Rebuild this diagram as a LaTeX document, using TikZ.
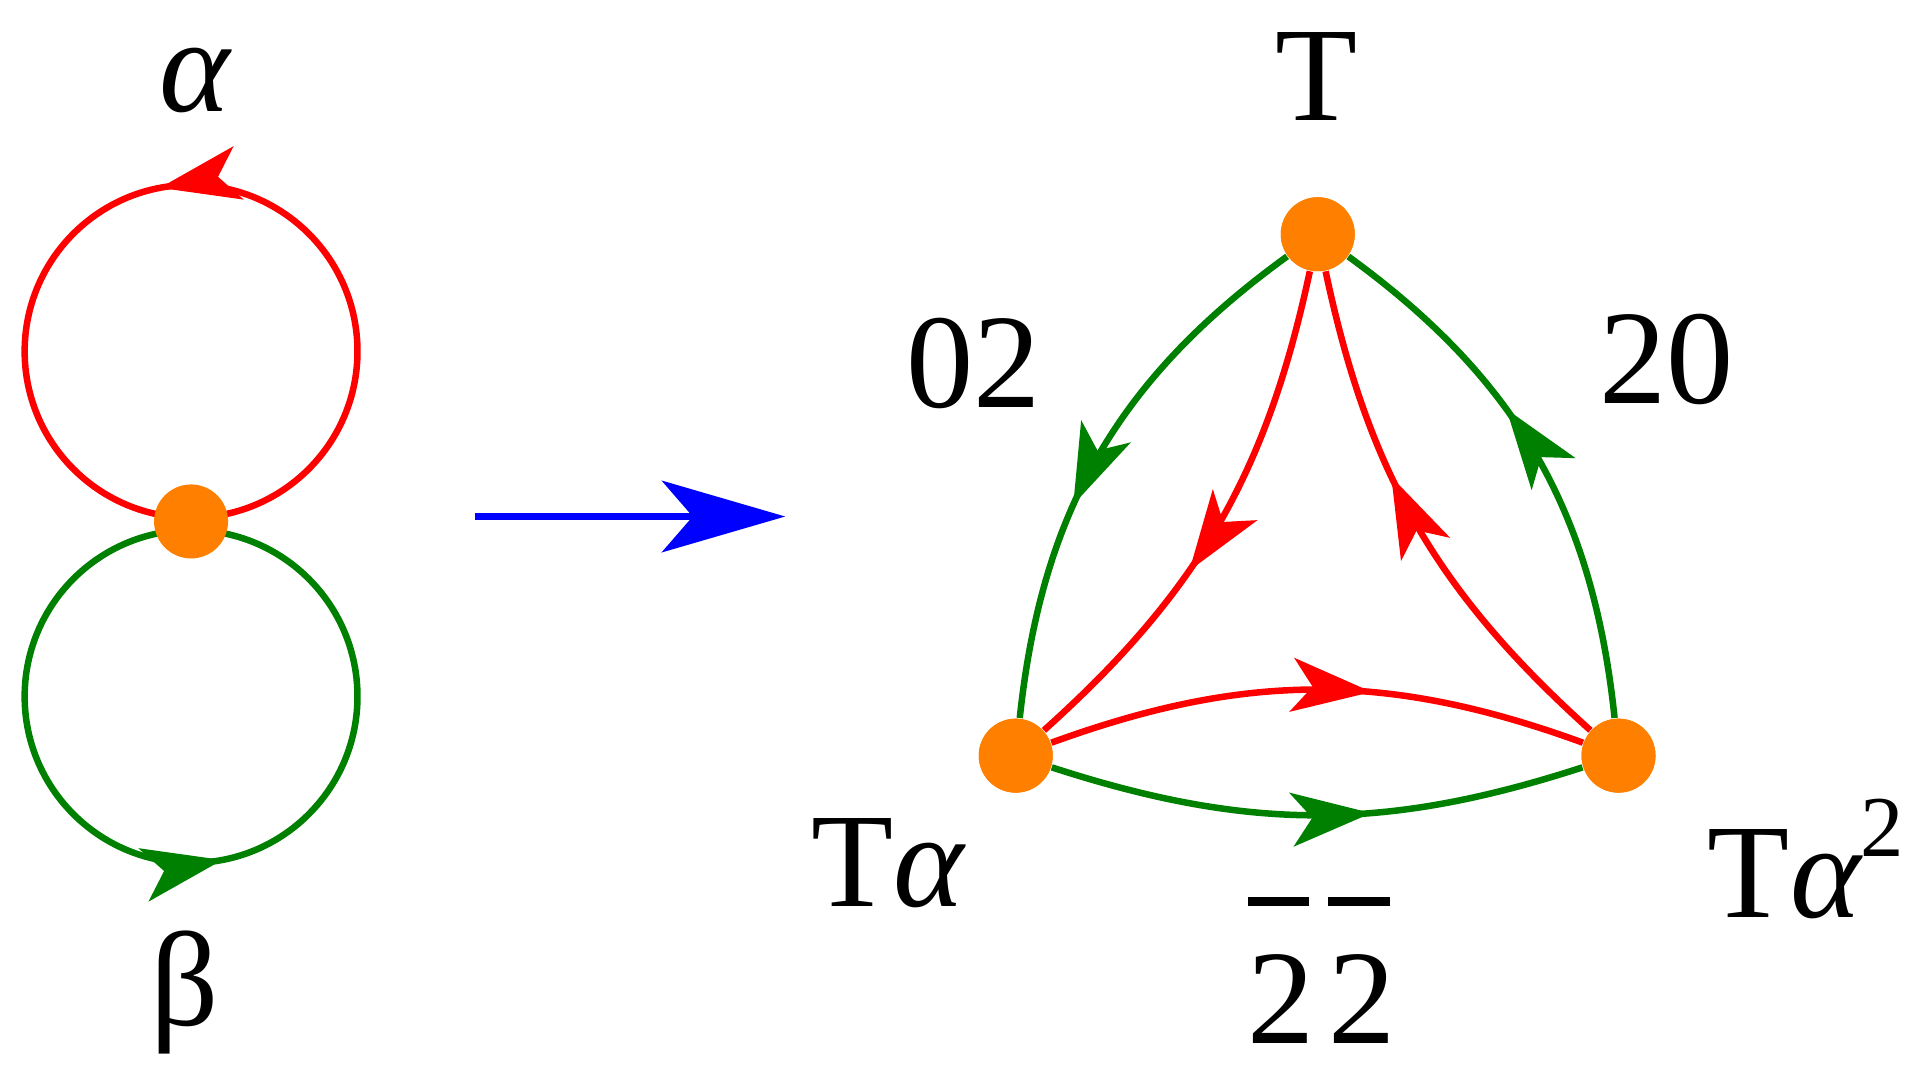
\documentclass[tikz,border=0pt]{standalone}
\usepackage{fontspec}
\setmainfont{Liberation Serif}
\newfontfamily\tmf{Liberation Serif}
\usetikzlibrary{arrows.meta,decorations.markings}
\definecolor{dgreen}{RGB}{0,128,0}
\definecolor{orng}{RGB}{255,128,0}
\tikzset{
 vtx/.style={circle,fill=orng,minimum size=0.6cm,inner sep=0pt},
 ln/.style={line width=1.5pt},
 midarr/.style={postaction={decorate},decoration={markings,mark=at position #1 with {\arrow[line width=0.5pt]{Stealth[length=0.65cm,width=0.44cm,inset=0.17cm]}}}},
 lab/.style={font=\tmf\fontsize{31}{34}\selectfont,inner sep=0pt}
}
\begin{document}
\begin{tikzpicture}[x=0.01cm,y=-0.01cm]
\useasboundingbox (0,0) rectangle (1560,878);
% left
\draw[ln,red,midarr=0.28] (290,285) arc[start angle=0,end angle=-360,radius=135];
\draw[ln,dgreen,midarr=0.78] (290,565) arc[start angle=0,end angle=-360,radius=135];
\node[vtx] (c) at (155,423) {};
\node[lab] (la) at (158,65) {\itshape α};
\node[lab] (lb) at (150,805) {β};
% blue arrow
\coordinate (b1) at (385,419);
\coordinate (b2) at (637,419);
\draw[ln,blue,-{Stealth[length=1cm,width=0.58cm,inset=0.25cm]}] (b1) -- (b2);
% right
\node[vtx] (T) at (1069,190) {};
\node[vtx] (A) at (824,613) {};
\node[vtx] (B) at (1313,613) {};
\draw[ln,dgreen,midarr=0.6] (T) to[bend right=24] (A);
\draw[ln,red,midarr=0.6] (T) to[bend left=18] (A);
\draw[ln,dgreen,midarr=0.6] (B) to[bend right=24] (T);
\draw[ln,red,midarr=0.6] (B) to[bend left=18] (T);
\draw[ln,red,midarr=0.6] (A) to[bend left=20] (B);
\draw[ln,dgreen,midarr=0.6] (A) to[bend right=18] (B);
\node[vtx] at (1069,190) {};
\node[vtx] at (824,613) {};
\node[vtx] at (1313,613) {};
\node[lab] (lT) at (1068,62) {T};
\node[lab] (l02) at (790,295) {02};
\node[lab] (l20) at (1352,292) {20};
\node[lab] (lA) at (720,700) {T\itshape α};
\node[lab] (lB) at (1465,697) {T\itshape α\raisebox{0.45em}{\upshape\fontsize{20}{22}\selectfont 2}};
\node[lab] (l22) at (1072,787) {\rlap{\rule[1.02em]{0.46em}{2pt}}2\hspace{0.1em}\rlap{\rule[1.02em]{0.46em}{2pt}}2};
\end{tikzpicture}
\end{document}
